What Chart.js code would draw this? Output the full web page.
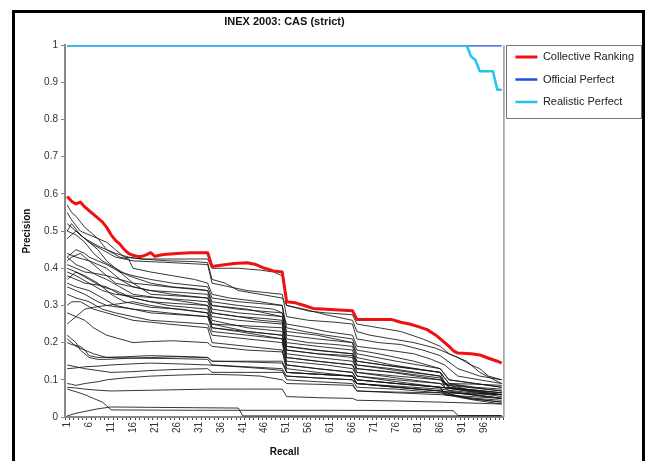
<!DOCTYPE html>
<html>
<head>
<meta charset="utf-8">
<title>INEX 2003: CAS (strict)</title>
<script src="https://cdn.jsdelivr.net/npm/chart.js@4.4.1/dist/chart.umd.min.js"></script>
<style>
  html, body { margin: 0; padding: 0; background: #fff; }
  #wrap { position: relative; width: 653px; height: 461px; overflow: hidden; }
  #frame { position: absolute; left: 12px; top: 10px; width: 633px; height: 480px; border: 3px solid #000; box-sizing: border-box; }
  #chart { position: absolute; left: 0; top: 0; }
</style>
</head>
<body>
<div id="wrap">
  <div id="frame"></div>
  <canvas id="chart" width="653" height="461"></canvas>
</div>
<script>
// recall levels 1..100 on the category axis, labels shown every 5th
var recallLevels = Array.from({ length: 100 }, function (_, i) { return i + 1; });
var xTickLabels = [1, 6, 11, 16, 21, 26, 31, 36, 41, 46, 51, 56, 61, 66, 71, 76, 81, 86, 91, 96];

// [recall, precision] pairs
var collectiveRanking = [[1,.593],[2,.58],[3,.573],[4,.578],[5,.565],[6,.555],[7,.545],[8,.535],[9,.525],[10,.51],[11,.49],[12,.475],[13,.465],[14,.45],[15,.44],[16,.435],[17,.432],[18,.432],[19,.436],[20,.442],[21,.432],[22,.435],[23,.437],[26,.44],[29,.442],[33,.442],[34,.405],[36,.408],[39,.413],[42,.415],[44,.41],[46,.40],[48,.393],[50,.39],[51,.31],[53,.307],[55,.30],[57,.292],[60,.29],[63,.288],[66,.286],[67,.262],[72,.262],[75,.262],[77,.255],[79,.25],[81,.243],[83,.235],[85,.22],[86,.21],[88,.19],[89,.178],[90,.172],[93,.17],[95,.167],[97,.158],[99,.15],[100,.145]];
var officialPerfect = [[1,1],[100,1]];
var realisticPerfect = [[1,1],[92,1],[93,.97],[94,.96],[95,.93],[98,.93],[99,.88],[100,.88]];

var run01 = [[1,.57],[2,.55],[3,.54],[5,.51],[6,.50],[8,.48],[10,.47],[12,.45],[14,.43],[18,.425],[24,.42],[30,.418],[33,.415],[34,.37],[37,.36],[40,.34],[45,.33],[50,.32],[51,.30],[56,.285],[60,.28],[66,.275],[67,.25],[72,.24],[77,.23],[82,.21],[86,.19],[88,.17],[90,.16],[93,.14],[95,.13],[97,.11],[100,.10]];
var run02 = [[1,.55],[2,.53],[4,.50],[6,.49],[8,.48],[10,.45],[12,.44],[15,.43],[18,.425],[25,.425],[33,.425],[34,.40],[40,.40],[45,.395],[48,.39],[50,.38],[51,.30],[55,.29],[60,.275],[66,.26],[67,.23],[70,.22],[75,.21],[80,.20],[85,.185],[88,.17],[92,.15],[95,.12],[100,.09]];
var run03 = [[1,.52],[3,.50],[5,.48],[8,.46],[10,.45],[13,.43],[15,.425],[16,.40],[20,.39],[25,.38],[30,.37],[33,.36],[34,.33],[38,.32],[45,.31],[50,.30],[51,.24],[55,.23],[60,.22],[66,.21],[67,.18],[72,.17],[80,.15],[86,.13],[88,.10],[94,.09],[100,.08]];
var run04 = [[1,.50],[3,.49],[5,.47],[7,.44],[9,.42],[12,.40],[15,.38],[20,.36],[25,.35],[30,.345],[33,.34],[34,.30],[40,.29],[45,.285],[50,.28],[51,.21],[56,.20],[62,.195],[66,.19],[67,.15],[73,.14],[80,.13],[86,.12],[87,.09],[93,.08],[100,.07]];
var run05 = [[1,.48],[3,.50],[5,.48],[8,.45],[10,.42],[12,.40],[16,.36],[20,.33],[27,.325],[33,.32],[34,.28],[40,.27],[46,.265],[50,.26],[51,.19],[57,.18],[66,.17],[67,.14],[75,.13],[86,.11],[88,.08],[94,.07],[100,.06]];
var run06 = [[1,.44],[3,.43],[6,.42],[8,.41],[10,.40],[13,.37],[16,.35],[20,.34],[25,.33],[33,.32],[34,.30],[42,.29],[46,.28],[50,.27],[51,.23],[58,.22],[66,.20],[67,.16],[75,.14],[86,.12],[88,.09],[95,.088],[100,.085]];
var run07 = [[1,.43],[3,.41],[5,.40],[8,.38],[10,.37],[13,.35],[16,.33],[22,.32],[28,.31],[33,.30],[34,.27],[40,.26],[50,.25],[51,.17],[58,.16],[66,.15],[67,.13],[75,.12],[86,.10],[88,.085],[100,.07]];
var run08 = [[1,.42],[2,.43],[4,.44],[6,.42],[8,.40],[10,.38],[12,.36],[16,.35],[20,.34],[27,.335],[33,.33],[34,.29],[40,.28],[50,.27],[51,.20],[58,.19],[66,.18],[67,.14],[76,.125],[86,.11],[87,.08],[100,.065]];
var run09 = [[1,.41],[3,.40],[5,.39],[8,.385],[10,.38],[13,.37],[16,.36],[24,.35],[33,.34],[34,.31],[40,.30],[48,.29],[50,.28],[51,.25],[56,.24],[60,.23],[66,.22],[67,.19],[74,.18],[80,.17],[84,.155],[87,.14],[90,.11],[95,.10],[100,.09]];
var run10 = [[1,.40],[3,.39],[6,.37],[9,.35],[12,.34],[16,.32],[20,.31],[26,.305],[33,.30],[34,.26],[42,.24],[50,.23],[51,.16],[58,.15],[66,.14],[67,.11],[76,.10],[86,.09],[88,.07],[94,.06],[100,.05]];
var run11 = [[1,.38],[3,.37],[5,.36],[8,.355],[10,.35],[13,.33],[16,.32],[24,.30],[33,.29],[34,.25],[42,.23],[50,.22],[51,.15],[60,.14],[66,.13],[67,.11],[76,.095],[86,.08],[92,.07],[100,.06]];
var run12 = [[1,.37],[3,.39],[5,.38],[8,.36],[11,.33],[14,.31],[20,.295],[27,.29],[33,.28],[34,.24],[42,.23],[50,.22],[51,.18],[58,.17],[66,.16],[67,.12],[76,.11],[86,.10],[88,.08],[94,.065],[100,.055]];
var run13 = [[1,.36],[3,.35],[6,.34],[9,.32],[12,.30],[16,.29],[20,.28],[33,.27],[34,.23],[42,.22],[50,.21],[51,.14],[58,.13],[66,.12],[67,.10],[76,.09],[86,.08],[87,.06],[94,.05],[100,.045]];
var run14 = [[1,.35],[3,.34],[5,.33],[8,.31],[10,.30],[16,.29],[24,.28],[33,.27],[34,.25],[42,.245],[50,.24],[51,.19],[58,.18],[66,.17],[67,.15],[76,.135],[86,.12],[88,.09],[94,.08],[100,.075]];
var run15 = [[1,.33],[3,.32],[6,.31],[9,.29],[12,.28],[16,.27],[20,.26],[33,.25],[34,.22],[42,.21],[50,.20],[51,.13],[58,.12],[66,.11],[67,.09],[76,.08],[86,.07],[100,.05]];
var run16 = [[1,.30],[2,.31],[4,.31],[7,.29],[10,.28],[13,.27],[16,.26],[24,.25],[33,.24],[34,.20],[42,.19],[50,.18],[51,.12],[58,.115],[66,.11],[67,.09],[76,.08],[86,.07],[92,.05],[100,.04]];
var run17 = [[1,.25],[3,.27],[5,.29],[7,.295],[10,.30],[13,.305],[16,.31],[20,.30],[26,.29],[33,.28],[34,.24],[40,.23],[45,.22],[50,.21],[51,.16],[58,.15],[66,.14],[67,.12],[76,.105],[86,.09],[92,.075],[100,.065]];
var run18 = [[1,.22],[2,.21],[3,.20],[4,.18],[6,.16],[8,.155],[10,.155],[15,.158],[20,.16],[26,.162],[33,.16],[34,.15],[42,.148],[50,.145],[51,.12],[58,.115],[66,.11],[67,.09],[76,.08],[86,.07],[93,.06],[100,.05]];
var run19 = [[1,.20],[2,.195],[4,.19],[5,.18],[7,.17],[10,.16],[18,.158],[26,.157],[33,.155],[34,.14],[42,.135],[50,.13],[51,.11],[58,.105],[66,.10],[67,.08],[76,.075],[86,.065],[93,.05],[100,.04]];
var run20 = [[1,.21],[3,.19],[5,.18],[6,.165],[8,.16],[14,.162],[20,.165],[27,.163],[33,.16],[34,.15],[42,.15],[50,.15],[51,.12],[58,.115],[66,.11],[67,.10],[76,.09],[86,.08],[87,.06],[94,.045],[100,.035]];
var run21 = [[1,.14],[3,.135],[5,.13],[8,.125],[11,.12],[16,.122],[20,.125],[26,.128],[33,.13],[34,.12],[42,.12],[50,.12],[51,.11],[58,.105],[66,.10],[67,.09],[76,.083],[86,.075],[93,.065],[100,.06]];
var run22 = [[1,.13],[3,.132],[5,.135],[8,.137],[11,.14],[16,.143],[20,.145],[26,.143],[33,.14],[40,.135],[46,.13],[50,.125],[51,.10],[58,.095],[66,.09],[67,.07],[76,.067],[86,.065],[100,.06]];
var run23 = [[1,.09],[2,.088],[3,.085],[5,.09],[8,.095],[10,.10],[14,.105],[20,.11],[27,.113],[33,.115],[40,.113],[45,.11],[50,.10],[51,.09],[58,.088],[66,.085],[67,.07],[76,.065],[86,.06],[93,.055],[100,.05]];
var run24 = [[1,.08],[3,.078],[5,.075],[8,.072],[11,.07],[20,.072],[33,.075],[42,.075],[50,.075],[51,.055],[58,.052],[66,.05],[67,.045],[76,.043],[86,.04],[100,.035]];
var run25 = [[1,.075],[3,.068],[5,.06],[7,.05],[9,.04],[10,.03],[11,.019],[30,.018],[60,.018],[89,.017],[90,.004],[100,.004]];
var run26 = [[1,.003],[3,.01],[5,.015],[8,.022],[11,.027],[20,.026],[30,.025],[40,.024],[41,.003],[100,.003]];
var run27 = [[1,.28],[3,.27],[5,.26],[7,.24],[10,.22],[13,.21],[16,.20],[20,.203],[25,.205],[33,.20],[34,.19],[42,.18],[50,.175],[51,.14],[58,.13],[66,.12],[67,.10],[76,.09],[86,.08],[93,.07],[100,.06]];
var run28 = [[1,.43],[3,.45],[5,.44],[6,.43],[8,.42],[10,.41],[13,.39],[16,.38],[20,.37],[25,.36],[33,.35],[34,.32],[40,.31],[45,.305],[50,.30],[51,.22],[58,.21],[66,.20],[67,.17],[76,.15],[86,.13],[88,.10],[94,.09],[100,.08]];
var run29 = [[1,.50],[2,.52],[4,.49],[6,.47],[9,.45],[12,.43],[16,.42],[25,.415],[33,.41],[34,.36],[38,.35],[42,.34],[46,.335],[50,.33],[51,.27],[56,.26],[62,.255],[66,.25],[67,.21],[72,.20],[77,.195],[82,.18],[86,.165],[90,.13],[95,.11],[100,.10]];
var run30 = [[1,.39],[3,.38],[6,.36],[9,.34],[12,.33],[16,.325],[22,.32],[28,.315],[33,.31],[34,.28],[40,.27],[45,.26],[50,.255],[51,.18],[58,.17],[66,.165],[67,.13],[76,.12],[86,.105],[88,.08],[95,.07],[100,.065]];

var runs = [run01, run02, run03, run04, run05, run06, run07, run08, run09, run10,
    run11, run12, run13, run14, run15, run16, run17, run18, run19, run20,
    run21, run22, run23, run24, run25, run26, run27, run28, run29, run30];

(function () {
    var FONT = "'Liberation Sans', Arial, sans-serif";
    Chart.defaults.font.family = FONT;
    Chart.defaults.color = '#333';

    function toPoints(pairs) {
        return pairs.map(function (p) { return { x: p[0], y: p[1] }; });
    }

    var datasets = [
        { label: 'Collective Ranking', data: toPoints(collectiveRanking), borderColor: '#ee1111', backgroundColor: '#ee1111', borderWidth: 3, order: 0 },
        { label: 'Official Perfect', data: toPoints(officialPerfect), borderColor: '#1f4fe0', backgroundColor: '#1f4fe0', borderWidth: 2.5, order: 2 },
        { label: 'Realistic Perfect', data: toPoints(realisticPerfect), borderColor: '#22c4ee', backgroundColor: '#22c4ee', borderWidth: 2.5, order: 1 }
    ];
    runs.forEach(function (run, i) {
        datasets.push({
            label: 'Run ' + (i + 1),
            data: toPoints(run),
            borderColor: 'rgba(20,20,20,0.85)',
            borderWidth: 1,
            order: 3
        });
    });

    // grey right edge of the plot area, and a frame round the legend
    var plotEdge = {
        id: 'plotEdge',
        beforeDatasetsDraw: function (chart) {
            var a = chart.chartArea, ctx = chart.ctx;
            ctx.save();
            ctx.strokeStyle = '#999';
            ctx.lineWidth = 1.5;
            ctx.beginPath();
            ctx.moveTo(a.right, a.top);
            ctx.lineTo(a.right, a.bottom);
            ctx.stroke();
            ctx.restore();
        },
        afterDraw: function (chart) {
            var lg = chart.legend;
            if (!lg || !lg.legendHitBoxes || !lg.legendHitBoxes.length) return;
            var boxes = lg.legendHitBoxes;
            var last = boxes[boxes.length - 1];
            var ctx = chart.ctx;
            var x0 = boxes[0].left - 9, y0 = boxes[0].top - 7;
            var x1 = lg.right - 3, y1 = last.top + last.height + 10;
            ctx.save();
            ctx.strokeStyle = '#777';
            ctx.lineWidth = 1;
            ctx.strokeRect(Math.round(x0) + 0.5, Math.round(y0) + 0.5, Math.round(x1 - x0), Math.round(y1 - y0));
            ctx.restore();
        }
    };

    new Chart(document.getElementById('chart'), {
        type: 'line',
        data: { labels: recallLevels, datasets: datasets },
        options: {
            responsive: false,
            animation: false,
            layout: { padding: { top: 13, left: 17, right: 9, bottom: 2 } },
            elements: {
                point: { radius: 0, hoverRadius: 0 },
                line: { tension: 0, borderJoinStyle: 'round' }
            },
            plugins: {
                tooltip: { enabled: false },
                title: {
                    display: true,
                    fullSize: false,
                    text: 'INEX 2003: CAS (strict)',
                    color: '#111',
                    font: { size: 11, weight: 'bold' },
                    padding: { top: 2, bottom: 17 }
                },
                legend: {
                    position: 'right',
                    align: 'start',
                    fullSize: true,
                    title: { display: true, text: '', font: { size: 10 }, padding: { top: 0, bottom: 15 } },
                    labels: {
                        usePointStyle: true,
                        pointStyle: 'line',
                        pointStyleWidth: 22,
                        padding: 11.5,
                        color: '#222',
                        font: { size: 11 },
                        filter: function (item) { return item.datasetIndex < 3; },
                        sort: function (a, b) { return a.datasetIndex - b.datasetIndex; }
                    }
                }
            },
            scales: {
                x: {
                    type: 'category',
                    offset: true,
                    afterFit: function (scale) { scale.height = 42; },
                    grid: { offset: true, drawOnChartArea: false, drawTicks: true, tickLength: 3, color: '#444' },
                    border: { color: '#888', width: 2 },
                    ticks: {
                        autoSkip: false,
                        maxRotation: 90,
                        minRotation: 90,
                        padding: 2,
                        color: '#333',
                        font: { size: 10 },
                        callback: function (val, idx) {
                            var lab = recallLevels[idx];
                            return xTickLabels.indexOf(lab) !== -1 ? String(lab) : '';
                        }
                    },
                    title: { display: true, text: 'Recall', color: '#111', font: { size: 10, weight: 'bold' }, padding: { top: 0, bottom: 1 } }
                },
                y: {
                    min: 0,
                    max: 1,
                    afterFit: function (scale) { scale.width = 48; },
                    grid: { drawOnChartArea: false, drawTicks: true, tickLength: 4, color: '#888' },
                    border: { color: '#888', width: 2 },
                    ticks: {
                        stepSize: 0.1,
                        padding: 3,
                        color: '#333',
                        font: { size: 10 },
                        callback: function (v) { return String(Math.round(v * 10) / 10); }
                    },
                    title: { display: true, text: 'Precision', color: '#111', font: { size: 10, weight: 'bold' }, padding: { top: 4, bottom: 0 } }
                }
            }
        },
        plugins: [plotEdge]
    });
})();
</script>
</body>
</html>
